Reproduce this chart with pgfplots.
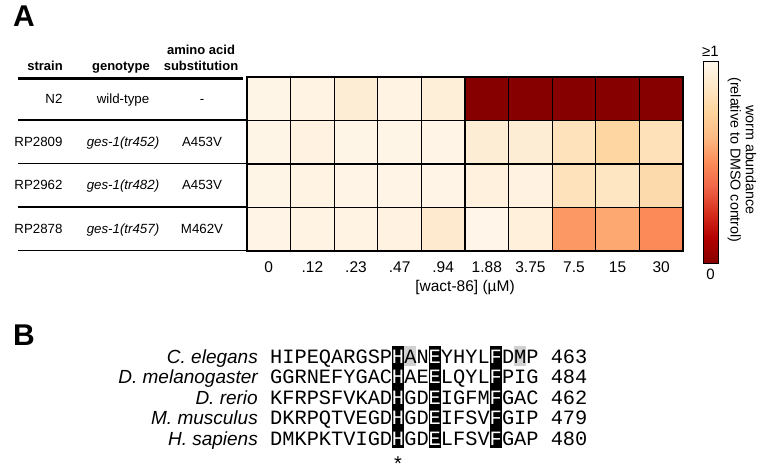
\documentclass[border=0pt]{standalone}
\usepackage{pgfplots}
\usepackage{pgfplotstable}
\pgfplotsset{compat=1.18}
\usepackage{fontspec}
\setmainfont{Liberation Sans}
\setmonofont{Liberation Mono}
\newcommand{\fs}[1]{\fontsize{#1}{#1}\selectfont}
\pgfplotstableread{
x y c
0 0 0.98
1 0 0.97
2 0 0.92
3 0 0.97
4 0 0.93
5 0 0.0
6 0 0.0
7 0 0.0
8 0 0.0
9 0 0.0
0 1 0.98
1 1 0.96
2 1 0.98
3 1 0.98
4 1 0.975
5 1 0.92
6 1 0.92
7 1 0.84
8 1 0.76
9 1 0.83
0 2 0.98
1 2 0.97
2 2 0.975
3 2 0.975
4 2 0.975
5 2 0.95
6 2 0.96
7 2 0.84
8 2 0.86
9 2 0.79
0 3 0.975
1 3 0.97
2 3 0.97
3 3 0.96
4 3 0.90
5 3 0.985
6 3 0.94
7 3 0.53
8 3 0.57
9 3 0.49
}\heatdata
\begin{document}
\begin{tikzpicture}[x=1pt,y=1pt]
\useasboundingbox (0,0) rectangle (761,-474);
% panel letters
\node[font=\fs{30}\bfseries] at (24,-16) {A};
\node[font=\fs{30}\bfseries] at (24,-335) {B};
% table header
\node[font=\fs{13}\bfseries, anchor=base] at (45,-70.5) {strain};
\node[font=\fs{13}\bfseries, anchor=base] at (121,-70.5) {genotype};
\node[font=\fs{13}\bfseries, anchor=base] at (201,-54.5) {amino acid};
\node[font=\fs{13}\bfseries, anchor=base] at (201,-70.5) {substitution};
\draw[line width=3pt] (18,-78) -- (243,-78);
\foreach \yy in {120,163.5,207,250.5} \draw[line width=1.2pt] (18,-\yy) -- (247,-\yy);
% table rows
\node[font=\fs{13.3}, anchor=base east] at (66,-103.7) {N2};
\node[font=\fs{13.3}, anchor=base] at (123,-103.7) {wild-type};
\node[font=\fs{13.3}, anchor=base] at (202,-103.7) {-};
\node[font=\fs{13.3}, anchor=base east] at (66,-146.5) {RP2809};
\node[font=\fs{13.3}\itshape, anchor=base] at (123,-146.5) {ges-1(tr452)};
\node[font=\fs{13.3}, anchor=base] at (202,-146.5) {A453V};
\node[font=\fs{13.3}, anchor=base east] at (66,-189.5) {RP2962};
\node[font=\fs{13.3}\itshape, anchor=base] at (123,-189.5) {ges-1(tr482)};
\node[font=\fs{13.3}, anchor=base] at (202,-189.5) {A453V};
\node[font=\fs{13.3}, anchor=base east] at (66,-233) {RP2878};
\node[font=\fs{13.3}\itshape, anchor=base] at (123,-233) {ges-1(tr457)};
\node[font=\fs{13.3}, anchor=base] at (202,-233) {M462V};
% heatmap
\begin{axis}[
  at={(247pt,-251pt)}, anchor=south west,
  scale only axis, width=436pt, height=174pt,
  xmin=-0.5, xmax=9.5, ymin=-0.5, ymax=3.5, y dir=reverse,
  xtick={0,...,9},
  xticklabels={0,.12,.23,.47,.94,1.88,3.75,7.5,15,30},
  ytick=\empty,
  major tick length=0pt,
  axis on top,
  axis line style={black, line width=1.3pt},
  xlabel={[wact-86] (µM)},
  xlabel style={font=\fs{15.5}, yshift=-1pt},
  tick label style={font=\fs{15.5}},
  xticklabel style={yshift=-7pt},
  colormap={orrd}{rgb255=(135,0,0) rgb255=(179,0,0) rgb255=(215,48,31) rgb255=(239,101,72) rgb255=(252,141,89) rgb255=(253,187,132) rgb255=(253,212,158) rgb255=(254,232,200) rgb255=(255,247,236)},
  point meta min=0, point meta max=1,
  colorbar,
  colorbar style={
    at={(parent axis.north east)}, anchor=north west,
    xshift=12pt, yshift=16pt,
    scale only axis, width=15pt, height=202pt,
    ytick=\empty, xtick=\empty,
    axis line style={black, line width=1pt},
  },
]
\addplot[matrix plot*, point meta=explicit, mesh/cols=10] table[x=x, y=y, meta=c] {\heatdata};
\foreach \i in {0.5,1.5,...,8.5} {\edef\temp{\noexpand\draw[black, line width=1.3pt] (axis cs:\i,-0.5) -- (axis cs:\i,3.5);}\temp}
\foreach \j in {0.5,1.5,2.5} {\edef\temp{\noexpand\draw[black, line width=1.3pt] (axis cs:-0.5,\j) -- (axis cs:9.5,\j);}\temp}
\end{axis}
% colorbar annotations
\node[font=\fs{15}] at (710.5,-51) {≥1};
\node[font=\fs{15}] at (710.5,-274) {0};
\node[font=\fs{14.3}, rotate=-90, align=center] at (742,-160) {worm abundance\\[1pt](relative to DMSO control)};
% panel B alignment
\begin{axis}[
  at={(270pt,-468.75pt)}, anchor=south west,
  scale only axis, width=366pt, height=123pt,
  xmin=0, xmax=30, ymin=0.5, ymax=6.5, y dir=reverse,
  axis lines=none, clip=false,
]
\addplot[fill=black!18, draw=none] coordinates {(11,0.5) (12,0.5) (12,1.5) (11,1.5)};
\addplot[fill=black!18, draw=none] coordinates {(20,0.5) (21,0.5) (21,1.5) (20,1.5)};
\addplot[fill=black, draw=none] coordinates {(10,0.5) (11,0.5) (11,5.5) (10,5.5)};
\addplot[fill=black, draw=none] coordinates {(13,0.5) (14,0.5) (14,5.5) (13,5.5)};
\addplot[fill=black, draw=none] coordinates {(18,0.5) (19,0.5) (19,5.5) (18,5.5)};
\foreach \r/\sp/\sa/\sb/\sc/\sd in {1/C. elegans/HIPEQARGSP/AN/YHYL/DMP 463,
                       2/D. melanogaster/GGRNEFYGAC/AE/LQYL/PIG 484,
                       3/D. rerio/KFRPSFVKAD/GD/IGFM/GAC 462,
                       4/M. musculus/DKRPQTVEGD/GD/IFSV/GIP 479,
                       5/H. sapiens/DMKPKTVIGD/GD/LFSV/GAP 480}{
  \edef\temp{%
  \noexpand\node[anchor=base west, inner sep=0pt, yshift=-7pt, font=\noexpand\ttfamily\noexpand\fs{20.33}] at (axis cs:0,\r) {\sa};
  \noexpand\node[anchor=base west, inner sep=0pt, yshift=-7pt, font=\noexpand\ttfamily\noexpand\fs{20.33}] at (axis cs:11,\r) {\sb};
  \noexpand\node[anchor=base west, inner sep=0pt, yshift=-7pt, font=\noexpand\ttfamily\noexpand\fs{20.33}] at (axis cs:14,\r) {\sc};
  \noexpand\node[anchor=base west, inner sep=0pt, yshift=-7pt, font=\noexpand\ttfamily\noexpand\fs{20.33}] at (axis cs:19,\r) {\sd};
  \noexpand\node[anchor=base east, inner sep=0pt, xshift=-12pt, yshift=-7pt, font=\noexpand\fs{19}\noexpand\itshape] at (axis cs:0,\r) {\sp};
  \noexpand\node[anchor=base, inner sep=0pt, yshift=-7pt, text=white, font=\noexpand\ttfamily\noexpand\fs{20.33}] at (axis cs:10.5,\r) {H};
  \noexpand\node[anchor=base, inner sep=0pt, yshift=-7pt, text=white, font=\noexpand\ttfamily\noexpand\fs{20.33}] at (axis cs:13.5,\r) {E};
  \noexpand\node[anchor=base, inner sep=0pt, yshift=-7pt, text=white, font=\noexpand\ttfamily\noexpand\fs{20.33}] at (axis cs:18.5,\r) {F};}%
  \temp
}
\node[font=\fs{20}] at (axis cs:10.5,6.25) {*};
\end{axis}
\end{tikzpicture}
\end{document}
